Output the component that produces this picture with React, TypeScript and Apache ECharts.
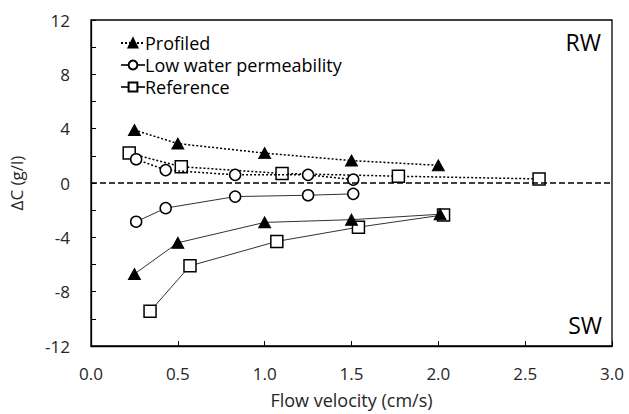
import React, { useEffect, useRef } from "react";
import * as echarts from "echarts";

const xTicks = [0, 0.5, 1.0, 1.5, 2.0, 2.5, 3.0];
const yTicks = [-12, -8, -4, 0, 4, 8, 12];

const profiledRwX = [0.25, 0.5, 1.0, 1.5, 2.0];
const profiledRwY = [3.9, 2.9, 2.2, 1.65, 1.3];
const profiledSwX = [0.25, 0.5, 1.0, 1.5, 2.01];
const profiledSwY = [-6.7, -4.4, -2.9, -2.7, -2.3];

const lowRwX = [0.26, 0.43, 0.83, 1.25, 1.51];
const lowRwY = [1.75, 0.95, 0.6, 0.6, 0.25];
const lowSwX = [0.26, 0.43, 0.83, 1.25, 1.51];
const lowSwY = [-2.85, -1.85, -1.0, -0.9, -0.8];

const refRwX = [0.22, 0.52, 1.1, 1.77, 2.58];
const refRwY = [2.2, 1.2, 0.7, 0.5, 0.3];
const refSwX = [0.34, 0.57, 1.07, 1.54, 2.03];
const refSwY = [-9.45, -6.1, -4.3, -3.25, -2.35];

const zip = (xs: number[], ys: number[]) => xs.map((x, i) => [x, ys[i]]);

const FONT = "'Open Sans', sans-serif";

export default function App() {
  const ref = useRef<HTMLDivElement>(null);
  useEffect(() => {
    if (!ref.current) return;
    document.body.style.margin = "0";
    const chart = echarts.init(ref.current, undefined, { renderer: "svg" });
    const dotted = { color: "#000", width: 1.5, type: [2, 2] as any };
    const solid = { color: "#333", width: 1, type: "solid" as any };
    const tri = { symbol: "triangle", symbolSize: [12, 11], itemStyle: { color: "#000", borderColor: "#000", borderWidth: 1 } };
    const circ = { symbol: "circle", symbolSize: 11, itemStyle: { color: "#fff", borderColor: "#000", borderWidth: 1.5 } };
    const sq = { symbol: "rect", symbolSize: 12, itemStyle: { color: "#fff", borderColor: "#000", borderWidth: 1.5 } };
    chart.setOption({
      animation: false,
      grid: { left: 91, right: 17, top: 20, bottom: 65, show: true, borderColor: "#000", borderWidth: 1.3, backgroundColor: "transparent" },
      legend: {
        orient: "vertical",
        left: 115,
        top: 29,
        itemWidth: 24,
        itemHeight: 11,
        itemGap: 4,
        data: ["Profiled", "Low water permeability", "Reference"],
        textStyle: { fontFamily: FONT, fontSize: 18, color: "#000", padding: [0, 0, 0, -5] },
      },
      xAxis: {
        type: "value",
        min: 0,
        max: 3,
        interval: 0.5,
        name: "Flow velocity (cm/s)",
        nameLocation: "middle",
        nameGap: 45,
        nameTextStyle: { fontFamily: FONT, fontSize: 18, color: "#262626" },
        axisLine: { onZero: false, lineStyle: { color: "#000", width: 1.3 } },
        axisTick: { inside: true, length: 5, lineStyle: { color: "#000" } },
        axisLabel: { fontFamily: FONT, fontSize: 17, color: "#262626", margin: 19, formatter: (v: number) => v.toFixed(1) },
        splitLine: { show: false },
      },
      yAxis: {
        type: "value",
        min: -12,
        max: 12,
        interval: 2,
        name: "ΔC (g/l)",
        nameLocation: "middle",
        nameGap: 66,
        nameTextStyle: { fontFamily: FONT, fontSize: 17, color: "#262626" },
        axisLine: { onZero: false, lineStyle: { color: "#000", width: 1.3 } },
        axisTick: { inside: true, length: 5, lineStyle: { color: "#000" } },
        axisLabel: {
          fontFamily: FONT,
          fontSize: 17,
          color: "#262626",
          margin: 21,
          formatter: (v: number) => (yTicks.includes(v) ? String(v) : ""),
        },
        splitLine: { show: false },
      },
      graphic: [
        { type: "text", right: 28, top: 30, style: { text: "RW", font: `23px ${FONT}`, fill: "#000" } },
        { type: "text", right: 27, top: 313, style: { text: "SW", font: `23px ${FONT}`, fill: "#000" } },
      ],
      series: [
        {
          name: "zero",
          type: "line",
          data: [],
          markLine: {
            silent: true,
            symbol: "none",
            label: { show: false },
            lineStyle: { color: "#000", width: 1.5, type: [6, 3] },
            data: [{ yAxis: 0 }],
          },
        },
        { name: "Profiled", type: "line", data: zip(profiledRwX, profiledRwY), lineStyle: dotted, ...tri, z: 5 },
        { name: "Profiled SW", type: "line", data: zip(profiledSwX, profiledSwY), lineStyle: solid, ...tri, z: 5 },
        { name: "Low water permeability RW", type: "line", data: zip(lowRwX, lowRwY), lineStyle: dotted, ...circ, z: 4 },
        { name: "Low water permeability", type: "line", data: zip(lowSwX, lowSwY), lineStyle: solid, ...circ, z: 4 },
        { name: "Reference RW", type: "line", data: zip(refRwX, refRwY), lineStyle: dotted, ...sq, z: 3 },
        { name: "Reference", type: "line", data: zip(refSwX, refSwY), lineStyle: solid, ...sq, z: 3 },
      ],
    });
    return () => chart.dispose();
  }, []);
  return <div ref={ref} style={{ width: 629, height: 414 }} />;
}
